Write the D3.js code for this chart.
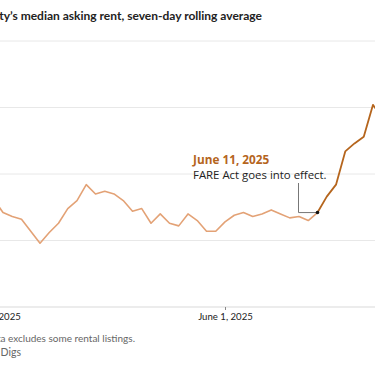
<!DOCTYPE html>
<html>
<head>
<meta charset="utf-8">
<script src="https://cdn.jsdelivr.net/npm/d3@7"></script>
<style>
  body { margin: 0; background: #fff; }
  svg { display: block; font-family: Lato, "Noto Sans", sans-serif; }
</style>
</head>
<body>
<div class="canvas"></div>
<script>
// daily dates, May 7 to June 18 2025
const days = [
  '2025-05-07', '2025-05-08', '2025-05-09', '2025-05-10', '2025-05-11', '2025-05-12',
  '2025-05-13', '2025-05-14', '2025-05-15', '2025-05-16', '2025-05-17', '2025-05-18',
  '2025-05-19', '2025-05-20', '2025-05-21', '2025-05-22', '2025-05-23', '2025-05-24',
  '2025-05-25', '2025-05-26', '2025-05-27', '2025-05-28', '2025-05-29', '2025-05-30',
  '2025-05-31', '2025-06-01', '2025-06-02', '2025-06-03', '2025-06-04', '2025-06-05',
  '2025-06-06', '2025-06-07', '2025-06-08', '2025-06-09', '2025-06-10', '2025-06-11',
  '2025-06-12', '2025-06-13', '2025-06-14', '2025-06-15', '2025-06-16', '2025-06-17',
  '2025-06-18'
];
// median asking rent, seven-day rolling average ($)
const rent = [
  4481, 4471, 4468, 4466, 4457, 4448,
  4456, 4463, 4474, 4480, 4492, 4485,
  4487, 4485, 4480, 4472, 4474, 4463,
  4470, 4463, 4461, 4470, 4465, 4457,
  4457, 4464, 4469, 4471, 4468, 4470,
  4473, 4470, 4467, 4468, 4465, 4471,
  4483, 4492, 4517, 4523, 4528, 4552,
  4542
];
const yTicks = [4400, 4450, 4500, 4550, 4600];
const xTicks = ['2025-05-07', '2025-06-01'];
const xTickLabels = ['May 7, 2025', 'June 1, 2025'];
const eventDay = '2025-06-11';

const parse = d3.timeParse('%Y-%m-%d');
const data = days.map((d, i) => ({ date: parse(d), value: rent[i] }));
const eventDate = parse(eventDay);

const svg = d3.select('.canvas')
  .append('svg')
  .attr('width', 375)
  .attr('height', 366);

const x = d3.scaleTime()
  .domain([parse('2025-05-07'), parse('2025-06-18')])
  .range([-6.25, 382.25]);

const y = d3.scaleLinear()
  .domain([4400, 4600])
  .range([307, 41]);

// title (cropped at the left like the source)
svg.append('text')
  .attr('x', 262)
  .attr('y', 20)
  .attr('text-anchor', 'end')
  .attr('font-size', 12)
  .attr('font-weight', 700)
  .attr('fill', '#222')
  .text('New York City’s median asking rent, seven-day rolling average');

// gridlines
svg.append('g')
  .selectAll('line')
  .data(yTicks)
  .join('line')
  .attr('x1', -60)
  .attr('x2', 375)
  .attr('y1', d => y(d))
  .attr('y2', d => y(d))
  .attr('stroke', d => d === 4400 ? '#d9d9d9' : '#e8e8e8')
  .attr('stroke-width', 1);

// x axis
const xAxis = svg.append('g')
  .attr('transform', `translate(0,${y(4400)})`)
  .call(d3.axisBottom(x)
    .tickValues(xTicks.map(parse))
    .tickSize(3)
    .tickFormat((d, i) => xTickLabels[i]));
xAxis.select('.domain').remove();
xAxis.selectAll('line').attr('stroke', '#888');
xAxis.selectAll('text')
  .attr('font-family', 'Lato, "Noto Sans", sans-serif')
  .attr('font-size', 9.6)
  .attr('fill', '#222')
  .attr('dy', '0.7em');

const line = d3.line()
  .x(d => x(d.date))
  .y(d => y(d.value));

const before = data.filter(d => d.date <= eventDate);
const after = data.filter(d => d.date >= eventDate);

svg.append('path')
  .datum(before)
  .attr('fill', 'none')
  .attr('stroke', '#e3a276')
  .attr('stroke-width', 1.6)
  .attr('stroke-linejoin', 'round')
  .attr('d', line);

svg.append('path')
  .datum(after)
  .attr('fill', 'none')
  .attr('stroke', '#b5651d')
  .attr('stroke-width', 1.8)
  .attr('stroke-linejoin', 'round')
  .attr('d', line);

// annotation
const ev = data.find(d => +d.date === +eventDate);
const ex = x(ev.date), ey = y(ev.value);

svg.append('path')
  .attr('d', `M${ex - 19},${183}V${ey}H${ex}`)
  .attr('fill', 'none')
  .attr('stroke', '#777')
  .attr('stroke-width', 1);

svg.append('circle')
  .attr('cx', ex)
  .attr('cy', ey)
  .attr('r', 1.8)
  .attr('fill', '#111');

svg.append('text')
  .attr('x', 193)
  .attr('y', 164)
  .attr('font-family', '"Open Sans", Lato, sans-serif')
  .attr('font-size', 11.8)
  .attr('font-weight', 700)
  .attr('fill', '#b5651d')
  .text('June 11, 2025');

svg.append('text')
  .attr('x', 193)
  .attr('y', 179)
  .attr('font-family', '"Open Sans", Lato, sans-serif')
  .attr('font-size', 11.4)
  .attr('fill', '#222')
  .text('FARE Act goes into effect.');

// notes
svg.append('text')
  .attr('x', 135)
  .attr('y', 342)
  .attr('text-anchor', 'end')
  .attr('font-size', 10)
  .attr('fill', '#666')
  .text('Note: Data excludes some rental listings.');

svg.append('text')
  .attr('x', 21)
  .attr('y', 356)
  .attr('text-anchor', 'end')
  .attr('font-size', 10.5)
  .attr('fill', '#666')
  .text('Source: Urban Digs');
</script>
</body>
</html>
